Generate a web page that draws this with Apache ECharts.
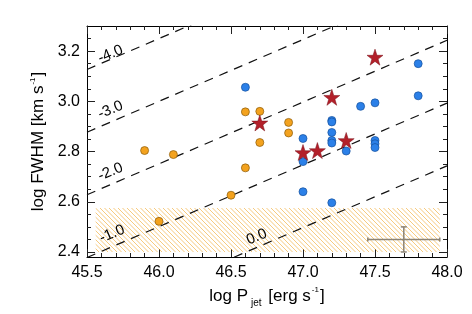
<!DOCTYPE html>
<html><head><meta charset="utf-8">
<script src="https://cdn.jsdelivr.net/npm/echarts@6/dist/echarts.min.js"></script>
<style>html,body{margin:0;padding:0;background:#fff}#c{width:472px;height:314px}</style>
</head><body><div id="c"></div>
<script>
// ---- data ----
const xTicks = [45.5, 46.0, 46.5, 47.0, 47.5, 48.0];
const yTicks = [2.4, 2.6, 2.8, 3.0, 3.2];
const yMinorTicks = [2.4, 2.45, 2.5, 2.55, 2.6, 2.65, 2.7, 2.75, 2.8, 2.85, 2.9, 2.95, 3.0, 3.05, 3.1, 3.15, 3.2, 3.25];

const orangeX = [45.9, 46.1, 46.0, 46.5, 46.6, 46.7, 46.6, 46.7, 46.9, 46.9];
const orangeY = [2.804, 2.788, 2.522, 2.626, 2.735, 2.836, 2.958, 2.960, 2.916, 2.874];

const blueX = [46.6, 47.8, 47.8, 47.4, 47.5, 47.2, 47.2, 47.2, 47.2, 47.2, 47.2, 47.0, 47.0, 47.0, 47.3, 47.5, 47.5, 47.5];
const blueY = [3.056, 3.150, 3.022, 2.980, 2.994, 2.924, 2.918, 2.876, 2.844, 2.834, 2.596, 2.852, 2.760, 2.640, 2.802, 2.844, 2.831, 2.816];

const starX = [46.7, 47.5, 47.2, 47.0, 47.1, 47.3];
const starY = [2.914, 3.176, 3.016, 2.796, 2.804, 2.844];

// dashed reference lines: value at x=45.5 and at x=48.0
const refLabels = ['-4.0', '-3.0', '-2.0', '-1.0', '0.0'];
const refX0 = 45.5, refX1 = 48.0;
const refY0 = [3.127, 2.877, 2.628, 2.378, 2.128];
const refY1 = [3.742, 3.492, 3.243, 2.993, 2.743];
const refLabelX = [45.663, 45.663, 45.663, 45.674, 46.678];
const refLabelY = [3.188, 2.966, 2.719, 2.472, 2.460];

// hatched band
const hatchX = [45.56, 47.95];
const hatchY = [2.40, 2.575];

// typical error bar: x, y, xerr, yerr
const errBar = [47.7, 2.45, 0.25, 0.05];

// ---- chart ----
const FONT = 'Liberation Sans, Arial, sans-serif';
const hatchCanvas = document.createElement('canvas');
hatchCanvas.width = 9; hatchCanvas.height = 9;
(function(){
  const g = hatchCanvas.getContext('2d');
  g.strokeStyle = 'rgba(240,170,50,0.7)';
  g.lineWidth = 0.9;
  for (let k = -9; k <= 18; k += 4.5) {
    g.beginPath(); g.moveTo(k, 0); g.lineTo(k + 9, 9); g.stroke();
  }
})();

const starPath = 'path://M50,0 L61.8,35.1 L98.1,35.1 L68.8,56.8 L79.4,91 L50,70 L20.6,91 L31.2,56.8 L1.9,35.1 L38.2,35.1 Z';

const zip = (a, b) => a.map((v, i) => [v, b[i]]);

const tickStyle = {color: '#222', width: 1};
function xAx(pos, withLabel) {
  return {
    type: 'value', min: xTicks[0], max: xTicks[xTicks.length - 1], interval: 0.5, position: pos,
    axisLine: {show: true, onZero: false, lineStyle: {color: '#000', width: 1}},
    axisTick: {show: true, inside: true, length: 8, lineStyle: tickStyle},
    minorTick: {show: true, splitNumber: 5, length: 4, lineStyle: tickStyle},
    splitLine: {show: false}, minorSplitLine: {show: false},
    axisLabel: {show: withLabel, formatter: v => v.toFixed(1), fontSize: 16, color: '#000', fontFamily: FONT, margin: 8},
  };
}
function yAx(pos, major, withLabel) {
  return {
    type: 'value', min: 2.38, max: 3.3, position: pos,
    axisLine: {show: major, onZero: false, lineStyle: {color: '#000', width: 1}},
    axisTick: {show: true, inside: true, length: major ? 8 : 4, customValues: major ? yTicks : yMinorTicks, lineStyle: tickStyle},
    splitLine: {show: false},
    axisLabel: withLabel ? {show: true, customValues: yTicks, formatter: v => v.toFixed(1), fontSize: 16, color: '#000', fontFamily: FONT, margin: 7} : {show: false},
  };
}

const xMain = xAx('bottom', true);
xMain.name = '{a|log P}{sub|jet}{a| [erg s}{sup|-1}{a|]}';
xMain.nameLocation = 'middle';
xMain.nameGap = 24;
xMain.nameTextStyle = {
  color: '#000', fontFamily: FONT,
  rich: {
    a: {fontSize: 17, color: '#000', fontFamily: FONT},
    sub: {fontSize: 10, color: '#000', fontFamily: FONT, padding: [14, 2, 0, 3]},
    sup: {fontSize: 8, color: '#000', fontFamily: FONT, padding: [0, 1, 12, 1]}
  }
};
const yMain = yAx('left', true, true);
yMain.name = '{a|log FWHM [km s}{sup|-1}{a|]}';
yMain.nameLocation = 'middle';
yMain.nameRotate = 90;
yMain.nameGap = 34;
yMain.nameTextStyle = {
  color: '#000', fontFamily: FONT,
  rich: {
    a: {fontSize: 17, color: '#000', fontFamily: FONT},
    sup: {fontSize: 8, color: '#000', fontFamily: FONT, padding: [0, 1, 12, 1]}
  }
};

const option = {
  animation: false,
  backgroundColor: '#fff',
  grid: {left: 87, right: 25, top: 26, bottom: 57, containLabel: false},
  xAxis: [xMain, xAx('top', false)],
  yAxis: [yMain, yAx('left', false, false), yAx('right', true, false), yAx('right', false, false)],
  series: [
    {
      type: 'custom', z: 1, silent: true,
      data: [[hatchX[0], hatchY[0], hatchX[1], hatchY[1]]],
      renderItem: (p, api) => {
        const a = api.coord([api.value(0), api.value(3)]);
        const b = api.coord([api.value(2), api.value(1)]);
        return {type: 'rect', shape: {x: a[0], y: a[1], width: b[0] - a[0], height: b[1] - a[1]},
          style: {fill: {image: hatchCanvas, repeat: 'repeat'}, stroke: null}};
      }
    },
    ...refLabels.map((lab, i) => ({
      type: 'line', z: 2, silent: true, symbol: 'none', clip: true,
      data: [[refX0, refY0[i]], [refX1, refY1[i]]],
      lineStyle: {color: '#111', width: 1.2, type: [9, 7]}
    })),
    {
      type: 'custom', z: 3, silent: true,
      data: refLabels.map((lab, i) => [refLabelX[i], refLabelY[i], i]),
      renderItem: (p, api) => {
        const c = api.coord([api.value(0), api.value(1)]);
        return {type: 'text', x: c[0], y: c[1], rotation: 23 * Math.PI / 180,
          style: {text: refLabels[api.value(2)], fill: '#000', fontSize: 15, fontFamily: FONT, align: 'center', verticalAlign: 'middle'}};
      }
    },
    {
      type: 'custom', z: 2, silent: true,
      data: [errBar],
      renderItem: (p, api) => {
        const x = api.value(0), y = api.value(1), ex = api.value(2), ey = api.value(3);
        const l = api.coord([x - ex, y]), r = api.coord([x + ex, y]);
        const t = api.coord([x, y + ey]), b = api.coord([x, y - ey]);
        const st = {stroke: '#8c8476', lineWidth: 1.5};
        const ln = (x1, y1, x2, y2) => ({type: 'line', shape: {x1, y1, x2, y2}, style: st});
        return {type: 'group', children: [
          ln(l[0], l[1], r[0], r[1]), ln(t[0], t[1], b[0], b[1]),
          ln(l[0], l[1] - 2, l[0], l[1] + 2), ln(r[0], r[1] - 2, r[0], r[1] + 2),
          ln(t[0] - 3, t[1], t[0] + 3, t[1]), ln(b[0] - 3, b[1], b[0] + 3, b[1])
        ]};
      }
    },
    {
      type: 'scatter', z: 4, symbol: 'circle', symbolSize: 8,
      data: zip(orangeX, orangeY),
      itemStyle: {color: '#f3a21e', borderColor: '#8a5a0a', borderWidth: 0.7, opacity: 1}
    },
    {
      type: 'scatter', z: 4, symbol: 'circle', symbolSize: 8,
      data: zip(blueX, blueY),
      itemStyle: {color: '#2b80e8', borderColor: '#16509c', borderWidth: 0.7, opacity: 1}
    },
    {
      type: 'scatter', z: 5, symbol: starPath, symbolSize: 16,
      data: zip(starX, starY),
      itemStyle: {color: '#b3202a', borderColor: '#7a1018', borderWidth: 0.5, opacity: 1}
    }
  ]
};
const chart = echarts.init(document.getElementById('c'), null, {renderer: 'canvas'});
chart.setOption(option);
</script>
</body></html>
